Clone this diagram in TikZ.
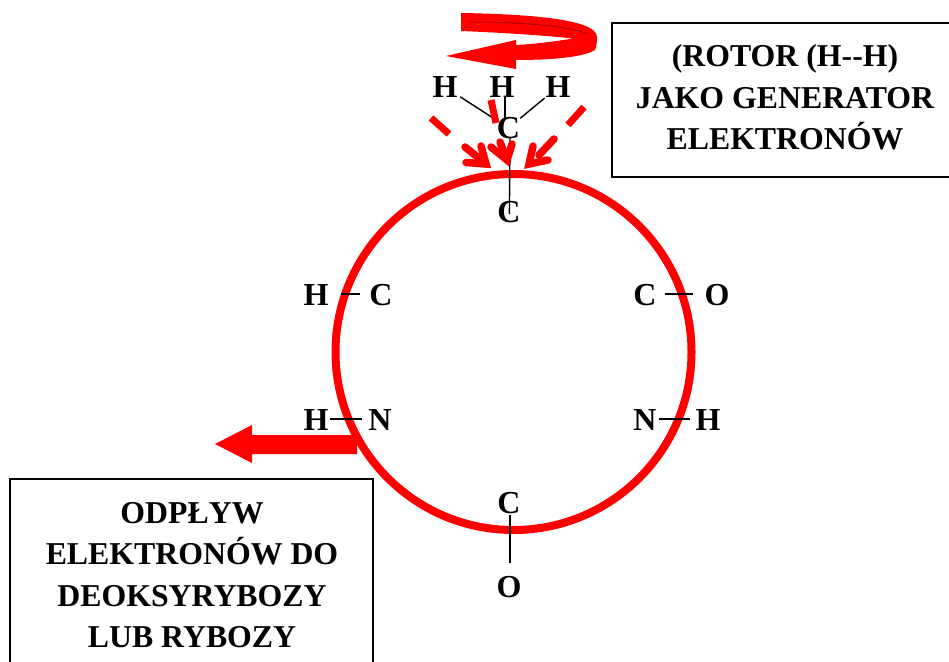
\documentclass[tikz,border=0pt]{standalone}
\usepackage{fontspec}
\setmainfont{Liberation Serif}
\definecolor{rd}{RGB}{255,0,0}
\tikzset{
  atom/.style={font=\fontsize{32}{36}\bfseries\selectfont,inner sep=0pt,text=black},
  bond/.style={draw=black,line width=1.4pt},
  infobox/.style={draw=black,line width=1.5pt,fill=white},
  caption/.style={font=\fontsize{31.8}{41.3}\bfseries\selectfont,align=center,inner sep=0pt,text=black},
  dashpart/.style={draw=rd,line width=7pt},
  shaft/.style={draw=rd,line width=7.5pt,line cap=round,line join=miter},
}
\begin{document}
\begin{tikzpicture}[x=1pt,y=-1pt]
\useasboundingbox (0,0) rectangle (949,661);
% boxes (they run off the page)
\path[infobox] (612,23) rectangle (960,177);
\path[infobox] (10,479) rectangle (373,670);
\node[caption] (capA) at (785,97.5) {(ROTOR (H-{}-H)\\JAKO GENERATOR\\ELEKTRONÓW};
\node[caption] (capB) at (192,575) {ODPŁYW\\ELEKTRONÓW DO\\DEOKSYRYBOZY\\LUB RYBOZY};
% rotor arrow
\fill[rd] (461,13) .. controls (520,14) and (597,18) .. (597,37)
  .. controls (597,44) and (596,48) .. (595,50)
  .. controls (585,56) and (560,60) .. (516,60) -- (516,69) -- (446,56) -- (516,40) -- (516,45)
  .. controls (535,44) and (555,41.5) .. (573,38.5)
  .. controls (550,36) and (510,33) .. (461,31) -- cycle;
\draw[black!45!rd,line width=.6pt] (469,22) .. controls (520,22) and (570,26) .. (588,34);
% left outflow arrow
\fill[rd] (215,444) -- (252,425) -- (252,435) -- (357,435) -- (357,454) -- (252,454) -- (252,463) -- cycle;
% ring
\node[draw=rd,line width=8pt,circle,minimum size=356pt,inner sep=0pt] (ring) at (513.5,352) {};
% atoms
\node[atom] (h1) at (445,87) {H};
\node[atom] (h2) at (502,87) {H};
\node[atom] (h3) at (558,87) {H};
\node[atom] (c0) at (508.5,128) {C};
\node[atom] (c1) at (509,212) {C};
\node[atom] (hl) at (316,295) {H};
\node[atom] (cl) at (381,295) {C};
\node[atom] (cr) at (645,295) {C};
\node[atom] (or) at (717,295) {O};
\node[atom] (hb) at (316,420) {H};
\node[atom] (nl) at (380,420) {N};
\node[atom] (nr) at (645,420) {N};
\node[atom] (hr) at (708,420) {H};
\node[atom] (c2) at (509,503) {C};
\node[atom] (o2) at (509,587) {O};
% bonds
\draw[bond,shorten <=3pt,shorten >=1pt] (h1) -- (c0);
\draw[bond] ([xshift=3pt,yshift=1pt]h2.south) -- ([xshift=-3.5pt,yshift=-2pt]c0.north);
\draw[bond,shorten <=1pt,shorten >=0pt] (h3) -- (c0);
\draw[bond,shorten <=-1pt,shorten >=-13pt] ([xshift=1.5pt]c0.south) -- ([xshift=.5pt]c1.north);
\draw[bond,shorten <=12pt,shorten >=9pt] ([yshift=1pt]hl.east) -- ([yshift=1pt]cl.west);
\draw[bond,shorten <=8pt,shorten >=11pt] ([yshift=1pt]cr.east) -- ([yshift=1pt]or.west);
\draw[bond,shorten <=1pt,shorten >=6pt] ([yshift=1pt]hb.east) -- ([yshift=1pt]nl.west);
\draw[bond,shorten <=2pt,shorten >=5pt] ([yshift=1pt]nr.east) -- ([yshift=1pt]hr.west);
\draw[bond,shorten <=1pt,shorten >=13pt] ([xshift=1pt]c2.south) -- ([xshift=1pt]o2.north);
% dashes and arrows over the rotor
\draw[dashpart] (431,118) -- (449,134);
\draw[dashpart] (491,100) -- (496,123);
\draw[dashpart] (584,107) -- (568,125);
\coordinate (tipA) at (486,164);
\coordinate (tipB) at (507,160);
\coordinate (tipC) at (529,164);
\draw[shaft] (465,147) -- (tipA);
\draw[shaft] (481,146) -- (tipA) -- (466,162.5);
\draw[shaft] (500,142) -- (tipB);
\draw[shaft] (491,147) -- (tipB) -- (512,144);
\draw[shaft] (554,139) -- (539,155);
\draw[shaft] (533,146) -- (tipC) -- (548,160);
\end{tikzpicture}
\end{document}
